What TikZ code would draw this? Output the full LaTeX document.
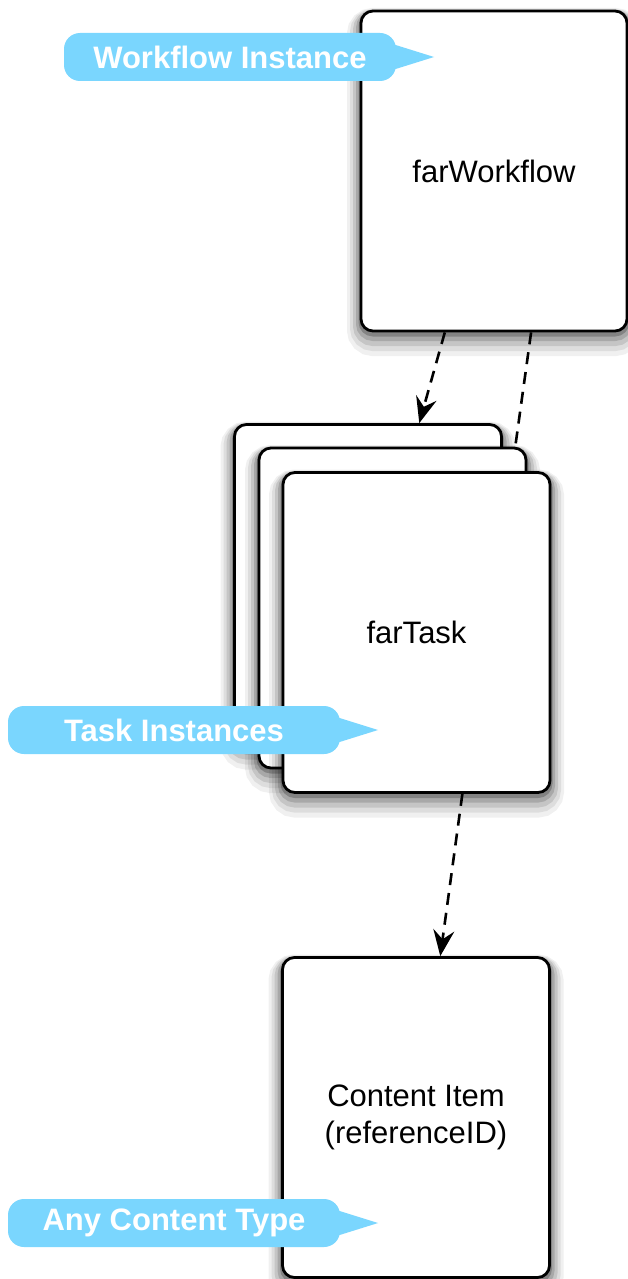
\documentclass[tikz,border=0pt]{standalone}
\usepackage{fontspec}
\setmainfont{Liberation Sans}
\usetikzlibrary{shadows,arrows.meta,calc}
\definecolor{calloutblue}{RGB}{122,214,254}
\tikzset{
  box/.style={draw=black, line width=2.8pt, fill=white, rounded corners=12pt,
    inner sep=0pt, font=\fontsize{31}{37}\selectfont, align=center,
    minimum width=267pt, minimum height=320pt,
    general shadow={draw=black, line width=28pt, draw opacity=0.06, shadow yshift=-11pt},
    general shadow={draw=black, line width=22pt, draw opacity=0.08, shadow yshift=-9pt},
    general shadow={draw=black, line width=16pt, draw opacity=0.11, shadow yshift=-7pt},
    general shadow={draw=black, line width=10pt, draw opacity=0.15, shadow yshift=-5pt},
    general shadow={draw=black, line width=5pt, draw opacity=0.22, shadow yshift=-3pt}},
  link/.style={draw=black, line width=2.6pt, dash pattern=on 12pt off 8pt},
  tipped/.style={-{Stealth[length=26pt,width=21pt,inset=9pt]}},
  calltext/.style={text=white, font=\fontsize{31}{38}\selectfont\bfseries, inner sep=0pt},
  bubble/.pic={
    \fill[calloutblue, rounded corners=16pt] (0,-24) rectangle (332,24);
    \fill[calloutblue] (322,-15) -- (370,0) -- (322,15) -- cycle;
    \node[calltext] (-t) at (166,0) {\tikzpictext};
  }
}
\begin{document}
\begin{tikzpicture}[x=1pt,y=-1pt]
\useasboundingbox (0,0) rectangle (628,1279);
% task stack
\node[box] (t1) at (368,584.5) {};
\node[box] (t2) at (392.5,608) {};
\node[box] (t3) at (416.5,632.5) {farTask};
% workflow
\node[box, minimum width=266pt] (wf) at (494,171) {farWorkflow};
% content item
\node[box] (ci) at (416,1117.5) {Content Item\\(referenceID)};
% connectors
\draw[link,tipped] ($(wf.south west)!0.317!(wf.south east)$) -- ($(t1.north west)!0.69!(t1.north east)$);
\draw[link] ($(wf.south west)!0.638!(wf.south east)$) -- ($(t2.north west)!0.955!(t2.north east)$);
\draw[link,tipped] ($(t3.south west)!0.67!(t3.south east)$) -- ($(ci.north west)!0.59!(ci.north east)$);
% callouts
\pic[pic text=Workflow Instance] (wi) at (64,57) {bubble};
\pic[pic text=Task Instances] (ti) at (8,730) {bubble};
\pic[pic text=Any Content Type] (act) at (8,1223) {bubble};
\end{tikzpicture}
\end{document}
